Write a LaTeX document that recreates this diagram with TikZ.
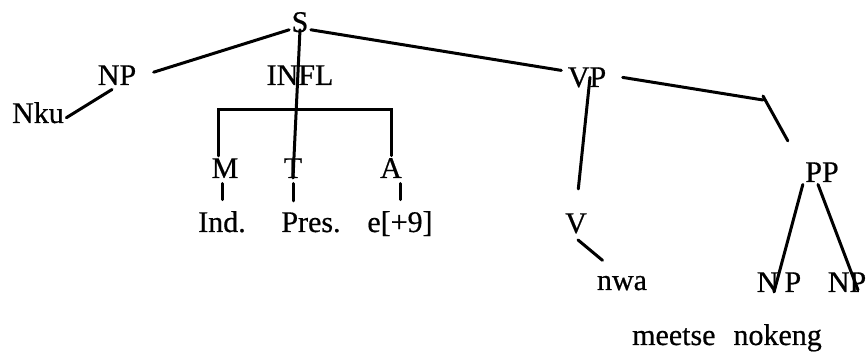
\documentclass[tikz,border=0pt]{standalone}
\usepackage{fontspec}
\setmainfont{Liberation Serif}[FakeBold=0.6]

\begin{document}
\begin{tikzpicture}[
    x=1pt, y=1pt,
    line width=3pt, line cap=round,
    cat/.style={font=\fontsize{30}{36}\selectfont, anchor=base, inner sep=1pt},
    stub/.style={shorten <=3pt, shorten >=9pt}
  ]
  \useasboundingbox (0,0) rectangle (867,353);

  % Root node
  \node[cat] (s) at (300,321) {S};

  % Subject
  \node[cat] (np) at (117,268) {NP};
  \node[cat] (nku) at (38,230) {Nku};

  % INFL and its parts
  \node[cat] (infl) at (300,268) {INFL};
  \node[cat] (m) at (225,175) {M};
  \node[cat] (t) at (293,175) {T};
  \node[cat] (a) at (391,175) {A};
  \node[cat] (ind) at (222,121) {Ind.};
  \node[cat] (pres) at (311,121) {Pres.};
  \node[cat] (e) at (400,121) {e[+9]};
  \coordinate (bar) at (293,243);

  % Predicate
  \node[cat] (vp) at (587,266) {VP};
  \node[cat] (v) at (576,120) {V};
  \node[cat] (nwa) at (622,63) {nwa};
  \node[cat] (pp) at (822,171) {PP};
  \node[cat] (np1) at (779,61) {N\kern6pt P};
  \node[cat] (np2) at (847,61) {NP};
  \node[cat] (words) at (727,8) {meetse\hspace{18pt}nokeng};
  \coordinate (bend) at (763,253);

  % Branches
  \draw ([shift={(15,3)}]np.east) -- ([yshift=5]s.south west);
  \draw ([yshift=-5]nku.east) -- ([shift={(-5,-2)}]np.south);
  \draw ([yshift=5]s.south east) -- ([shift={(-4,7)}]vp.west);
  \draw ([yshift=5]s.south) -- (t.base);
  \draw ([xshift=-7]m.north) |- (bar) -| (a.north);
  \draw[stub] (ind.north |- m.south) -- (ind.north);
  \draw[stub] (t.south) -- (t.south |- pres.north);
  \draw[stub] (e.north |- a.south) -- (e.north);
  \draw[shorten >=22pt] ([xshift=3]vp.center) -- (v.north);
  \draw ([shift={(2,-4)}]v.south) -- ([shift={(8,13)}]nwa.north west);
  \draw ([xshift=14]vp.east) -- (bend);
  \draw ([yshift=4]bend) -- ([shift={(-15,19)}]pp.north west);
  \draw (pp.south west) -- ([xshift=-5]np1.base);
  \draw ([xshift=-4]pp.south) -- ([shift={(11,2)}]np2.base);

\end{tikzpicture}
\end{document}
